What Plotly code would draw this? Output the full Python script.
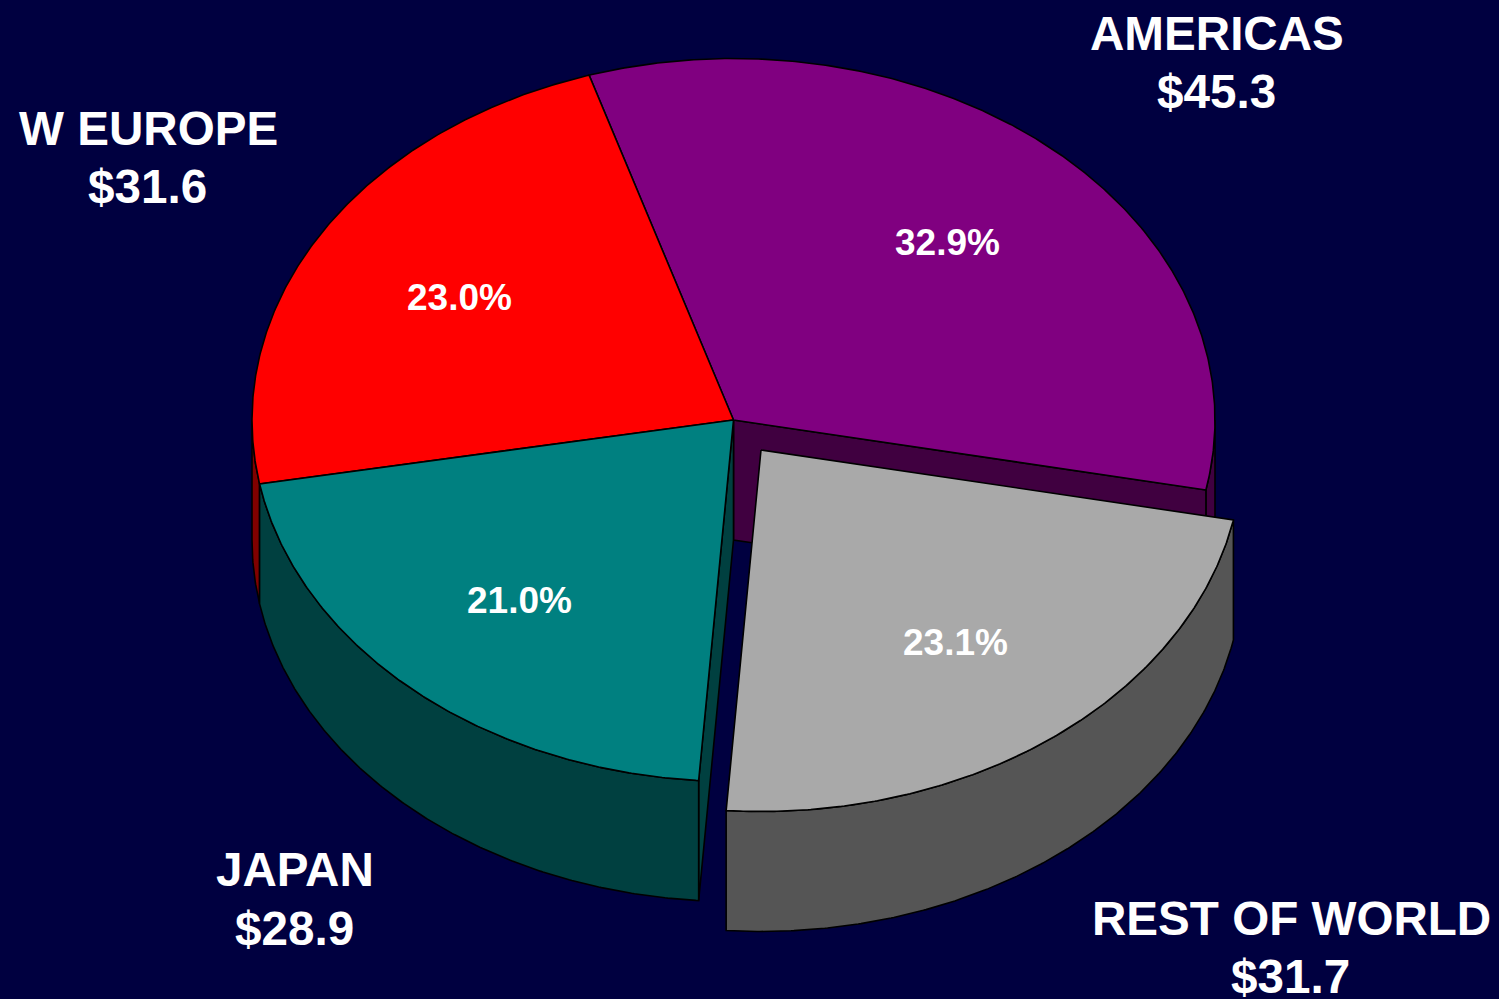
import numpy as np
import plotly.graph_objects as go

# ---- data ----
regions = ["AMERICAS", "REST OF WORLD", "JAPAN", "W EUROPE"]
revenue = [45.3, 31.7, 28.9, 31.6]
money_labels = ["$45.3", "$31.7", "$28.9", "$31.6"]

# ---- styles ----
top_colors = ["#800080", "#A9A9A9", "#008080", "#FF0000"]
side_colors = ["#400040", "#555555", "#004040", "#800000"]
BG = "#000040"
FONT = "Liberation Sans, Arial, sans-serif"

# ---- geometry of the tilted pie (in page-scaled axis units) ----
CX, CY, RX, RY = 733.5, 420.0, 481.5, 361.5
DEPTH = 120.0
START = -17.45
EXPLODE = {1: (27.5, 30.0)}
LABEL_POS = {0: (1217, 33, 91), 1: (1291, 918, 976), 2: (295, 869, 928), 3: (148, 128, 186)}
PCT_SHIFT_Y = 1.5

total = sum(revenue)
sweeps = [v / total * 360.0 for v in revenue]
edges = np.concatenate([[START], START + np.cumsum(sweeps)])


def pt(t, dx=0.0, dy=0.0, r=1.0):
    t = np.radians(t)
    return CX + dx + r * RX * np.sin(t), CY + dy - r * RY * np.cos(t)


def arc(a, b, dx=0.0, dy=0.0):
    ts = np.linspace(a, b, max(3, int(abs(b - a) * 3)))
    return pt(ts, dx, dy)


fig = go.Figure()


def poly(xs, ys, color):
    fig.add_trace(go.Scatter(
        x=list(xs) + [xs[0]], y=list(ys) + [ys[0]], mode="lines", fill="toself",
        fillcolor=color, line=dict(color="#000000", width=1.6),
        hoverinfo="skip", showlegend=False))


def rim(i, a, b, dx=0.0, dy=0.0):
    """Visible outer wall between angles a and b."""
    x, y = arc(a, b, dx, dy)
    poly(np.concatenate([x, x[::-1]]), np.concatenate([y, y[::-1] + DEPTH]), side_colors[i])


def radial_wall(i, t, dx=0.0, dy=0.0):
    ex, ey = pt(t, dx, dy)
    ax, ay = CX + dx, CY + dy
    poly([ax, ex, ex, ax], [ay, ey, ey + DEPTH, ay + DEPTH], side_colors[i])


def top(i, dx=0.0, dy=0.0):
    x, y = arc(edges[i], edges[i + 1], dx, dy)
    poly(np.concatenate([[CX + dx], x]), np.concatenate([[CY + dy], y]), top_colors[i])


# back-to-front painting
rim(0, 90, edges[1])
radial_wall(0, edges[1])
rim(3, edges[3], 270)
radial_wall(2, edges[3] - sweeps[2])
rim(2, edges[2], edges[3])
top(0)
top(3)
top(2)

gx, gy = EXPLODE[1]
rim(1, edges[1], edges[2], gx, gy)
top(1, gx, gy)

annotations = []


def text(x, y, s, size):
    annotations.append(dict(x=x, y=y, text=s, xref="x", yref="y", showarrow=False,
                            xanchor="center", yanchor="middle",
                            font=dict(family=FONT, size=size, color="#FFFFFF", weight="bold")))


for i, name in enumerate(regions):
    lx, y1, y2 = LABEL_POS[i]
    text(lx, y1, name, 47.6)
    text(lx - 1, y2, money_labels[i], 47.6)
    dx, dy = EXPLODE.get(i, (0.0, 0.0))
    px, py = pt((edges[i] + edges[i + 1]) / 2, dx, dy, 0.665)
    text(float(px), float(py) + PCT_SHIFT_Y, f"{revenue[i] / total * 100:.1f}%", 37)

fig.update_layout(
    width=1499, height=999, margin=dict(l=0, r=0, t=0, b=0),
    paper_bgcolor=BG, plot_bgcolor=BG, annotations=annotations,
    xaxis=dict(range=[0, 1499], visible=False, fixedrange=True),
    yaxis=dict(range=[999, 0], visible=False, fixedrange=True),
)
fig.write_html("out.html", config={"displayModeBar": False},
               post_script="document.body.style.margin='0';document.body.style.background='" + BG + "';")
